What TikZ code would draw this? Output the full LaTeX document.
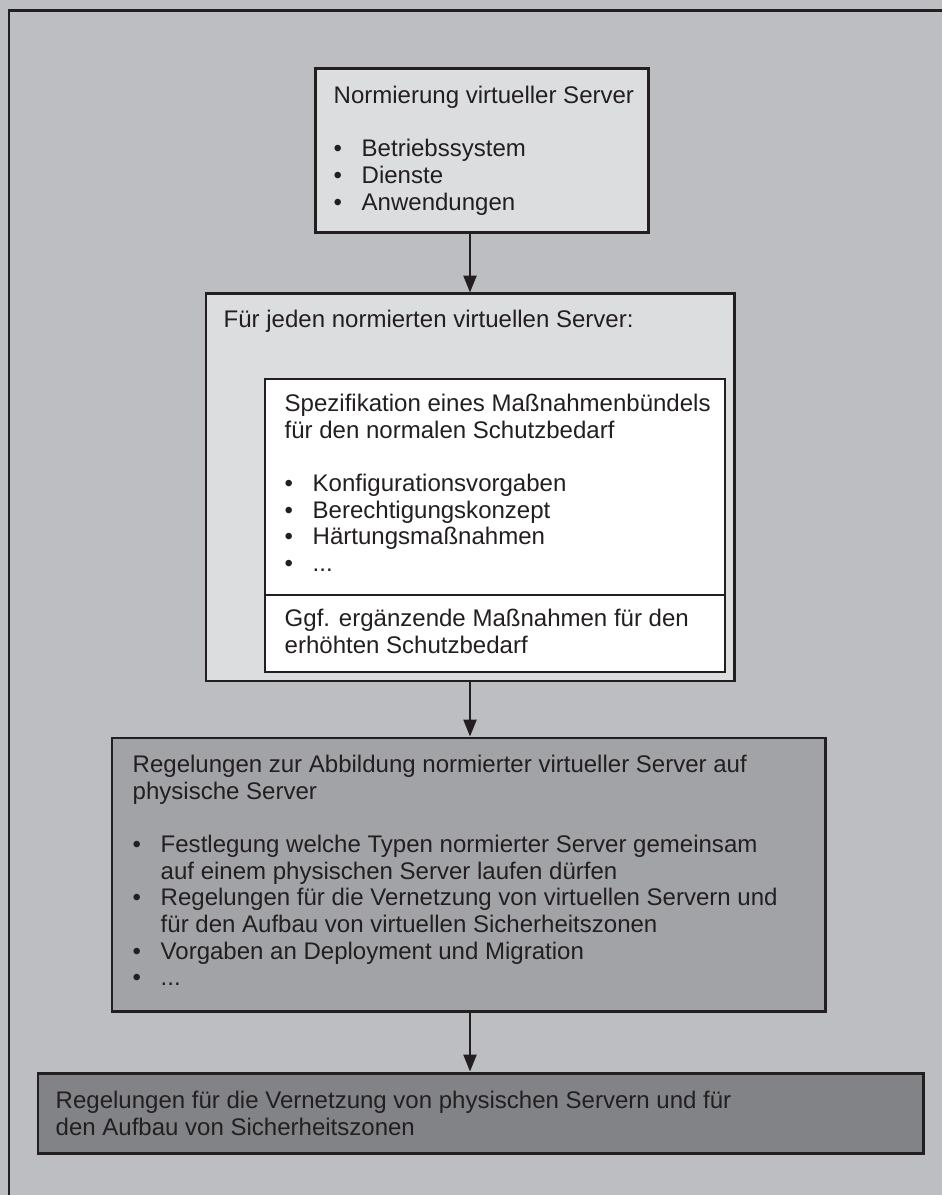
\documentclass[tikz,border=0pt]{standalone}
\usepackage{fontspec}
\setmainfont{Liberation Sans}
\usetikzlibrary{arrows.meta,fit}
\definecolor{grund}{RGB}{189,190,193}
\definecolor{hell}{RGB}{220,221,223}
\definecolor{mittel}{RGB}{162,163,166}
\definecolor{dunkel}{RGB}{130,131,135}
\definecolor{tinte}{RGB}{35,31,32}
\newcommand{\pkt}{\makebox[0.28cm][l]{\textbullet}}
\newcommand{\weiter}{\hspace*{0.28cm}}
\newcommand{\anf}{\rule{0pt}{5pt}}
\tikzset{
  kasten/.style={draw=tinte, line width=0.85pt, inner sep=0pt},
  innen/.style={draw=tinte, line width=0.65pt, inner sep=0pt, fill=white},
  pfeil/.style={draw=tinte, line width=0.6pt, -{Triangle[length=4.8pt,width=3.7pt]}},
  txt/.style={anchor=north west, align=left, text=tinte, inner sep=0pt,
    font=\fontsize{6.83}{7.57}\selectfont},
}
\begin{document}
\begin{tikzpicture}[x=0.01cm,y=-0.01cm]
	\useasboundingbox (0,0) rectangle (942,1195);
	
	% Hintergrund und Rahmen
	\fill[grund] (0,0) rectangle (942,1195);
	\draw[tinte, line width=0.85pt] (942,11) -- (9,11) -- (9,1195);
	
	% Normierung virtueller Server (Oberkante = Grundlinie - 17.6)
	\node[kasten, fill=hell, fit={(315,69) (648,233)}] (norm) {};
	\node[txt] (normtxt) at (333,85.4) {\anf Normierung virtueller Server\\[7.57pt]
		\pkt Betriebssystem\\ \pkt Dienste\\ \pkt Anwendungen};
	
	% Je normiertem Server
	\node[kasten, fill=hell, fit={(206,294) (734,681)}] (jeder) {};
	\node[txt] (jedertxt) at (223,309.4) {\anf F\"ur jeden normierten virtuellen Server:};
	
	% Massnahmenbuendel
	\node[innen, fit={(265,379) (725,672)}] (buendel) {};
	\draw[tinte, line width=0.6pt] (265,595) -- (725,595);
	\node[txt] (buendeltxt) at (284,393.4) {\anf Spezifikation eines Ma\ss nahmenb\"undels\\
		f\"ur den normalen Schutzbedarf\\[7.57pt]
		\pkt Konfigurationsvorgaben\\ \pkt Berechtigungskonzept\\
		\pkt H\"artungsma\ss nahmen\\ \pkt ...};
	\node[txt] (erhoehttxt) at (284,608.4) {\anf Ggf. erg\"anzende Ma\ss nahmen f\"ur den\\
		erh\"ohten Schutzbedarf};
	
	% Abbildung auf physische Server
	\node[kasten, fill=mittel, fit={(112,738) (825,1011)}] (abbildung) {};
	\node[txt] (abbildungtxt) at (132,754.4) {\anf Regelungen zur Abbildung normierter virtueller Server auf\\
		physische Server\\[7.57pt]
		\pkt Festlegung welche Typen normierter Server gemeinsam\\
		\weiter auf einem physischen Server laufen d\"urfen\\
		\pkt Regelungen f\"ur die Vernetzung von virtuellen Servern und\\
		\weiter f\"ur den Aufbau von virtuellen Sicherheitszonen\\
		\pkt Vorgaben an Deployment und Migration\\
		\pkt ...};
	
	% Physische Vernetzung
	\node[kasten, fill=dunkel, fit={(38,1073) (923,1153)}] (netz) {};
	\node[txt] (netztxt) at (55,1090.4) {\anf Regelungen f\"ur die Vernetzung von physischen Servern und f\"ur\\
		den Aufbau von Sicherheitszonen};
	
	% Pfeile
	\draw[pfeil] (norm.south -| jeder.north) -- (jeder.north);
	\draw[pfeil] (jeder.south) -- (jeder.south |- abbildung.north);
	\draw[pfeil] (abbildung.south -| jeder.south) -- (jeder.south |- netz.north);
	
\end{tikzpicture}
\end{document}
